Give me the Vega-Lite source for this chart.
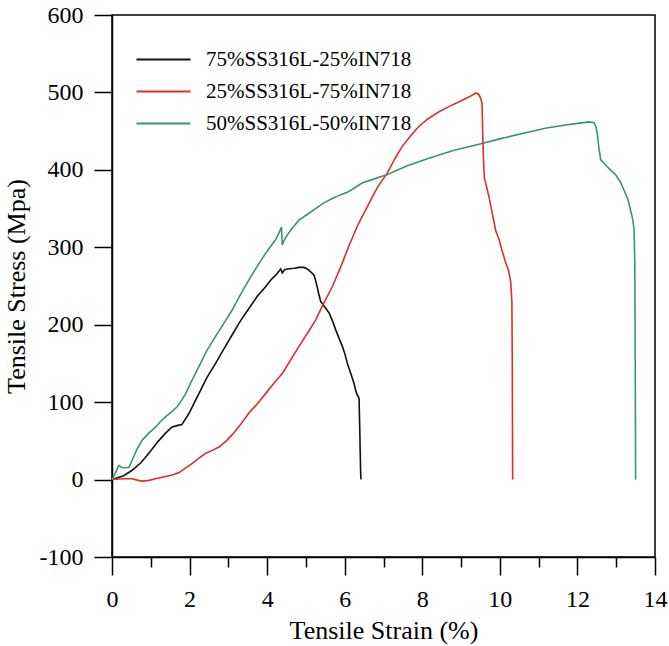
{
  "$schema": "https://vega.github.io/schema/vega-lite/v6.json",
  "width": 543,
  "height": 542,
  "autosize": {"type": "none"},
  "padding": {"left": 112, "top": 15, "right": 14, "bottom": 89},
  "background": "white",
  "config": {
    "font": "Liberation Serif",
    "view": {"stroke": "black", "strokeWidth": 1.5},
    "axis": {
      "domainColor": "black", "domainWidth": 1.5,
      "tickColor": "black", "tickWidth": 1.5,
      "grid": false,
      "labelFont": "Times New Roman", "labelFontSize": 24, "labelColor": "black",
      "titleFont": "Liberation Serif", "titleFontSize": 26, "titleFontWeight": "normal", "titleColor": "black"
    }
  },
  "data": {"values": [
    {"alloy": "75%SS316L-25%IN718", "i": 1, "strain": 0, "stress": 0},
    {"alloy": "75%SS316L-25%IN718", "i": 2, "strain": 0.3, "stress": 5},
    {"alloy": "75%SS316L-25%IN718", "i": 3, "strain": 0.52, "stress": 12},
    {"alloy": "75%SS316L-25%IN718", "i": 4, "strain": 0.75, "stress": 22},
    {"alloy": "75%SS316L-25%IN718", "i": 5, "strain": 0.95, "stress": 34},
    {"alloy": "75%SS316L-25%IN718", "i": 6, "strain": 1.2, "stress": 50},
    {"alloy": "75%SS316L-25%IN718", "i": 7, "strain": 1.38, "stress": 60},
    {"alloy": "75%SS316L-25%IN718", "i": 8, "strain": 1.55, "stress": 68},
    {"alloy": "75%SS316L-25%IN718", "i": 9, "strain": 1.7, "stress": 70},
    {"alloy": "75%SS316L-25%IN718", "i": 10, "strain": 1.8, "stress": 71},
    {"alloy": "75%SS316L-25%IN718", "i": 11, "strain": 1.98, "stress": 85},
    {"alloy": "75%SS316L-25%IN718", "i": 12, "strain": 2.24, "stress": 111},
    {"alloy": "75%SS316L-25%IN718", "i": 13, "strain": 2.45, "stress": 132},
    {"alloy": "75%SS316L-25%IN718", "i": 14, "strain": 2.67, "stress": 150},
    {"alloy": "75%SS316L-25%IN718", "i": 15, "strain": 2.9, "stress": 170},
    {"alloy": "75%SS316L-25%IN718", "i": 16, "strain": 3.1, "stress": 187},
    {"alloy": "75%SS316L-25%IN718", "i": 17, "strain": 3.3, "stress": 204},
    {"alloy": "75%SS316L-25%IN718", "i": 18, "strain": 3.53, "stress": 221},
    {"alloy": "75%SS316L-25%IN718", "i": 19, "strain": 3.75, "stress": 237},
    {"alloy": "75%SS316L-25%IN718", "i": 20, "strain": 3.96, "stress": 249},
    {"alloy": "75%SS316L-25%IN718", "i": 21, "strain": 4.1, "stress": 258},
    {"alloy": "75%SS316L-25%IN718", "i": 22, "strain": 4.22, "stress": 264},
    {"alloy": "75%SS316L-25%IN718", "i": 23, "strain": 4.35, "stress": 272},
    {"alloy": "75%SS316L-25%IN718", "i": 24, "strain": 4.39, "stress": 267},
    {"alloy": "75%SS316L-25%IN718", "i": 25, "strain": 4.45, "stress": 271},
    {"alloy": "75%SS316L-25%IN718", "i": 26, "strain": 4.52, "stress": 272},
    {"alloy": "75%SS316L-25%IN718", "i": 27, "strain": 4.7, "stress": 273},
    {"alloy": "75%SS316L-25%IN718", "i": 28, "strain": 4.82, "stress": 274},
    {"alloy": "75%SS316L-25%IN718", "i": 29, "strain": 4.95, "stress": 274},
    {"alloy": "75%SS316L-25%IN718", "i": 30, "strain": 5.04, "stress": 272},
    {"alloy": "75%SS316L-25%IN718", "i": 31, "strain": 5.13, "stress": 268},
    {"alloy": "75%SS316L-25%IN718", "i": 32, "strain": 5.21, "stress": 264},
    {"alloy": "75%SS316L-25%IN718", "i": 33, "strain": 5.26, "stress": 255},
    {"alloy": "75%SS316L-25%IN718", "i": 34, "strain": 5.29, "stress": 249},
    {"alloy": "75%SS316L-25%IN718", "i": 35, "strain": 5.33, "stress": 240},
    {"alloy": "75%SS316L-25%IN718", "i": 36, "strain": 5.38, "stress": 230},
    {"alloy": "75%SS316L-25%IN718", "i": 37, "strain": 5.5, "stress": 222},
    {"alloy": "75%SS316L-25%IN718", "i": 38, "strain": 5.6, "stress": 215},
    {"alloy": "75%SS316L-25%IN718", "i": 39, "strain": 5.7, "stress": 203},
    {"alloy": "75%SS316L-25%IN718", "i": 40, "strain": 5.77, "stress": 193},
    {"alloy": "75%SS316L-25%IN718", "i": 41, "strain": 5.85, "stress": 183},
    {"alloy": "75%SS316L-25%IN718", "i": 42, "strain": 5.94, "stress": 172},
    {"alloy": "75%SS316L-25%IN718", "i": 43, "strain": 6.0, "stress": 163},
    {"alloy": "75%SS316L-25%IN718", "i": 44, "strain": 6.07, "stress": 150},
    {"alloy": "75%SS316L-25%IN718", "i": 45, "strain": 6.15, "stress": 138},
    {"alloy": "75%SS316L-25%IN718", "i": 46, "strain": 6.24, "stress": 124},
    {"alloy": "75%SS316L-25%IN718", "i": 47, "strain": 6.3, "stress": 112},
    {"alloy": "75%SS316L-25%IN718", "i": 48, "strain": 6.37, "stress": 105},
    {"alloy": "75%SS316L-25%IN718", "i": 49, "strain": 6.39, "stress": 60},
    {"alloy": "75%SS316L-25%IN718", "i": 50, "strain": 6.4, "stress": 34},
    {"alloy": "75%SS316L-25%IN718", "i": 51, "strain": 6.41, "stress": 10},
    {"alloy": "75%SS316L-25%IN718", "i": 52, "strain": 6.42, "stress": 0},

    {"alloy": "25%SS316L-75%IN718", "i": 1, "strain": 0, "stress": 0},
    {"alloy": "25%SS316L-75%IN718", "i": 2, "strain": 0.3, "stress": 1},
    {"alloy": "25%SS316L-75%IN718", "i": 3, "strain": 0.52, "stress": 1},
    {"alloy": "25%SS316L-75%IN718", "i": 4, "strain": 0.75, "stress": -2},
    {"alloy": "25%SS316L-75%IN718", "i": 5, "strain": 0.95, "stress": -1},
    {"alloy": "25%SS316L-75%IN718", "i": 6, "strain": 1.2, "stress": 2},
    {"alloy": "25%SS316L-75%IN718", "i": 7, "strain": 1.38, "stress": 4},
    {"alloy": "25%SS316L-75%IN718", "i": 8, "strain": 1.55, "stress": 6},
    {"alloy": "25%SS316L-75%IN718", "i": 9, "strain": 1.73, "stress": 9},
    {"alloy": "25%SS316L-75%IN718", "i": 10, "strain": 1.9, "stress": 15},
    {"alloy": "25%SS316L-75%IN718", "i": 11, "strain": 2.07, "stress": 21},
    {"alloy": "25%SS316L-75%IN718", "i": 12, "strain": 2.25, "stress": 28},
    {"alloy": "25%SS316L-75%IN718", "i": 13, "strain": 2.42, "stress": 34},
    {"alloy": "25%SS316L-75%IN718", "i": 14, "strain": 2.6, "stress": 38},
    {"alloy": "25%SS316L-75%IN718", "i": 15, "strain": 2.76, "stress": 42},
    {"alloy": "25%SS316L-75%IN718", "i": 16, "strain": 2.95, "stress": 50},
    {"alloy": "25%SS316L-75%IN718", "i": 17, "strain": 3.1, "stress": 58},
    {"alloy": "25%SS316L-75%IN718", "i": 18, "strain": 3.3, "stress": 70},
    {"alloy": "25%SS316L-75%IN718", "i": 19, "strain": 3.53, "stress": 86},
    {"alloy": "25%SS316L-75%IN718", "i": 20, "strain": 3.75, "stress": 98},
    {"alloy": "25%SS316L-75%IN718", "i": 21, "strain": 3.96, "stress": 111},
    {"alloy": "25%SS316L-75%IN718", "i": 22, "strain": 4.2, "stress": 126},
    {"alloy": "25%SS316L-75%IN718", "i": 23, "strain": 4.39, "stress": 137},
    {"alloy": "25%SS316L-75%IN718", "i": 24, "strain": 4.6, "stress": 154},
    {"alloy": "25%SS316L-75%IN718", "i": 25, "strain": 4.82, "stress": 172},
    {"alloy": "25%SS316L-75%IN718", "i": 26, "strain": 5.05, "stress": 190},
    {"alloy": "25%SS316L-75%IN718", "i": 27, "strain": 5.25, "stress": 206},
    {"alloy": "25%SS316L-75%IN718", "i": 28, "strain": 5.45, "stress": 227},
    {"alloy": "25%SS316L-75%IN718", "i": 29, "strain": 5.68, "stress": 249},
    {"alloy": "25%SS316L-75%IN718", "i": 30, "strain": 5.9, "stress": 275},
    {"alloy": "25%SS316L-75%IN718", "i": 31, "strain": 6.11, "stress": 302},
    {"alloy": "25%SS316L-75%IN718", "i": 32, "strain": 6.35, "stress": 330},
    {"alloy": "25%SS316L-75%IN718", "i": 33, "strain": 6.63, "stress": 357},
    {"alloy": "25%SS316L-75%IN718", "i": 34, "strain": 6.85, "stress": 378},
    {"alloy": "25%SS316L-75%IN718", "i": 35, "strain": 7.1, "stress": 396},
    {"alloy": "25%SS316L-75%IN718", "i": 36, "strain": 7.3, "stress": 415},
    {"alloy": "25%SS316L-75%IN718", "i": 37, "strain": 7.48, "stress": 430},
    {"alloy": "25%SS316L-75%IN718", "i": 38, "strain": 7.7, "stress": 444},
    {"alloy": "25%SS316L-75%IN718", "i": 39, "strain": 7.91, "stress": 456},
    {"alloy": "25%SS316L-75%IN718", "i": 40, "strain": 8.15, "stress": 466},
    {"alloy": "25%SS316L-75%IN718", "i": 41, "strain": 8.43, "stress": 475},
    {"alloy": "25%SS316L-75%IN718", "i": 42, "strain": 8.7, "stress": 482},
    {"alloy": "25%SS316L-75%IN718", "i": 43, "strain": 8.95, "stress": 488},
    {"alloy": "25%SS316L-75%IN718", "i": 44, "strain": 9.2, "stress": 494},
    {"alloy": "25%SS316L-75%IN718", "i": 45, "strain": 9.37, "stress": 499},
    {"alloy": "25%SS316L-75%IN718", "i": 46, "strain": 9.45, "stress": 498},
    {"alloy": "25%SS316L-75%IN718", "i": 47, "strain": 9.5, "stress": 493},
    {"alloy": "25%SS316L-75%IN718", "i": 48, "strain": 9.54, "stress": 486},
    {"alloy": "25%SS316L-75%IN718", "i": 49, "strain": 9.55, "stress": 465},
    {"alloy": "25%SS316L-75%IN718", "i": 50, "strain": 9.56, "stress": 443},
    {"alloy": "25%SS316L-75%IN718", "i": 51, "strain": 9.58, "stress": 410},
    {"alloy": "25%SS316L-75%IN718", "i": 52, "strain": 9.6, "stress": 390},
    {"alloy": "25%SS316L-75%IN718", "i": 53, "strain": 9.72, "stress": 365},
    {"alloy": "25%SS316L-75%IN718", "i": 54, "strain": 9.8, "stress": 345},
    {"alloy": "25%SS316L-75%IN718", "i": 55, "strain": 9.89, "stress": 322},
    {"alloy": "25%SS316L-75%IN718", "i": 56, "strain": 9.98, "stress": 310},
    {"alloy": "25%SS316L-75%IN718", "i": 57, "strain": 10.05, "stress": 297},
    {"alloy": "25%SS316L-75%IN718", "i": 58, "strain": 10.15, "stress": 280},
    {"alloy": "25%SS316L-75%IN718", "i": 59, "strain": 10.22, "stress": 271},
    {"alloy": "25%SS316L-75%IN718", "i": 60, "strain": 10.28, "stress": 255},
    {"alloy": "25%SS316L-75%IN718", "i": 61, "strain": 10.31, "stress": 230},
    {"alloy": "25%SS316L-75%IN718", "i": 62, "strain": 10.32, "stress": 150},
    {"alloy": "25%SS316L-75%IN718", "i": 63, "strain": 10.33, "stress": 0},

    {"alloy": "50%SS316L-50%IN718", "i": 1, "strain": 0, "stress": 0},
    {"alloy": "50%SS316L-50%IN718", "i": 2, "strain": 0.1, "stress": 10},
    {"alloy": "50%SS316L-50%IN718", "i": 3, "strain": 0.14, "stress": 14},
    {"alloy": "50%SS316L-50%IN718", "i": 4, "strain": 0.18, "stress": 18},
    {"alloy": "50%SS316L-50%IN718", "i": 5, "strain": 0.25, "stress": 16},
    {"alloy": "50%SS316L-50%IN718", "i": 6, "strain": 0.3, "stress": 15},
    {"alloy": "50%SS316L-50%IN718", "i": 7, "strain": 0.44, "stress": 16},
    {"alloy": "50%SS316L-50%IN718", "i": 8, "strain": 0.52, "stress": 25},
    {"alloy": "50%SS316L-50%IN718", "i": 9, "strain": 0.65, "stress": 40},
    {"alloy": "50%SS316L-50%IN718", "i": 10, "strain": 0.78, "stress": 51},
    {"alloy": "50%SS316L-50%IN718", "i": 11, "strain": 0.95, "stress": 60},
    {"alloy": "50%SS316L-50%IN718", "i": 12, "strain": 1.13, "stress": 68},
    {"alloy": "50%SS316L-50%IN718", "i": 13, "strain": 1.25, "stress": 75},
    {"alloy": "50%SS316L-50%IN718", "i": 14, "strain": 1.38, "stress": 81},
    {"alloy": "50%SS316L-50%IN718", "i": 15, "strain": 1.55, "stress": 88},
    {"alloy": "50%SS316L-50%IN718", "i": 16, "strain": 1.68, "stress": 94},
    {"alloy": "50%SS316L-50%IN718", "i": 17, "strain": 1.8, "stress": 103},
    {"alloy": "50%SS316L-50%IN718", "i": 18, "strain": 1.9, "stress": 111},
    {"alloy": "50%SS316L-50%IN718", "i": 19, "strain": 2.05, "stress": 127},
    {"alloy": "50%SS316L-50%IN718", "i": 20, "strain": 2.24, "stress": 146},
    {"alloy": "50%SS316L-50%IN718", "i": 21, "strain": 2.45, "stress": 167},
    {"alloy": "50%SS316L-50%IN718", "i": 22, "strain": 2.67, "stress": 185},
    {"alloy": "50%SS316L-50%IN718", "i": 23, "strain": 2.9, "stress": 203},
    {"alloy": "50%SS316L-50%IN718", "i": 24, "strain": 3.1, "stress": 219},
    {"alloy": "50%SS316L-50%IN718", "i": 25, "strain": 3.3, "stress": 238},
    {"alloy": "50%SS316L-50%IN718", "i": 26, "strain": 3.53, "stress": 258},
    {"alloy": "50%SS316L-50%IN718", "i": 27, "strain": 3.75, "stress": 276},
    {"alloy": "50%SS316L-50%IN718", "i": 28, "strain": 3.96, "stress": 292},
    {"alloy": "50%SS316L-50%IN718", "i": 29, "strain": 4.1, "stress": 302},
    {"alloy": "50%SS316L-50%IN718", "i": 30, "strain": 4.22, "stress": 310},
    {"alloy": "50%SS316L-50%IN718", "i": 31, "strain": 4.3, "stress": 318},
    {"alloy": "50%SS316L-50%IN718", "i": 32, "strain": 4.37, "stress": 326},
    {"alloy": "50%SS316L-50%IN718", "i": 33, "strain": 4.39, "stress": 303},
    {"alloy": "50%SS316L-50%IN718", "i": 34, "strain": 4.45, "stress": 310},
    {"alloy": "50%SS316L-50%IN718", "i": 35, "strain": 4.52, "stress": 316},
    {"alloy": "50%SS316L-50%IN718", "i": 36, "strain": 4.65, "stress": 325},
    {"alloy": "50%SS316L-50%IN718", "i": 37, "strain": 4.82, "stress": 335},
    {"alloy": "50%SS316L-50%IN718", "i": 38, "strain": 5.05, "stress": 343},
    {"alloy": "50%SS316L-50%IN718", "i": 39, "strain": 5.25, "stress": 350},
    {"alloy": "50%SS316L-50%IN718", "i": 40, "strain": 5.45, "stress": 357},
    {"alloy": "50%SS316L-50%IN718", "i": 41, "strain": 5.68, "stress": 363},
    {"alloy": "50%SS316L-50%IN718", "i": 42, "strain": 5.9, "stress": 368},
    {"alloy": "50%SS316L-50%IN718", "i": 43, "strain": 6.11, "stress": 372},
    {"alloy": "50%SS316L-50%IN718", "i": 44, "strain": 6.45, "stress": 383},
    {"alloy": "50%SS316L-50%IN718", "i": 45, "strain": 6.8, "stress": 389},
    {"alloy": "50%SS316L-50%IN718", "i": 46, "strain": 7.1, "stress": 394},
    {"alloy": "50%SS316L-50%IN718", "i": 47, "strain": 7.6, "stress": 405},
    {"alloy": "50%SS316L-50%IN718", "i": 48, "strain": 8.17, "stress": 415},
    {"alloy": "50%SS316L-50%IN718", "i": 49, "strain": 8.8, "stress": 425},
    {"alloy": "50%SS316L-50%IN718", "i": 50, "strain": 9.54, "stress": 434},
    {"alloy": "50%SS316L-50%IN718", "i": 51, "strain": 10.0, "stress": 440},
    {"alloy": "50%SS316L-50%IN718", "i": 52, "strain": 10.75, "stress": 449},
    {"alloy": "50%SS316L-50%IN718", "i": 53, "strain": 11.2, "stress": 454},
    {"alloy": "50%SS316L-50%IN718", "i": 54, "strain": 11.7, "stress": 458},
    {"alloy": "50%SS316L-50%IN718", "i": 55, "strain": 12.0, "stress": 460},
    {"alloy": "50%SS316L-50%IN718", "i": 56, "strain": 12.3, "stress": 462},
    {"alloy": "50%SS316L-50%IN718", "i": 57, "strain": 12.43, "stress": 461},
    {"alloy": "50%SS316L-50%IN718", "i": 58, "strain": 12.48, "stress": 455},
    {"alloy": "50%SS316L-50%IN718", "i": 59, "strain": 12.51, "stress": 447},
    {"alloy": "50%SS316L-50%IN718", "i": 60, "strain": 12.55, "stress": 430},
    {"alloy": "50%SS316L-50%IN718", "i": 61, "strain": 12.6, "stress": 413},
    {"alloy": "50%SS316L-50%IN718", "i": 62, "strain": 12.73, "stress": 406},
    {"alloy": "50%SS316L-50%IN718", "i": 63, "strain": 12.85, "stress": 400},
    {"alloy": "50%SS316L-50%IN718", "i": 64, "strain": 12.98, "stress": 394},
    {"alloy": "50%SS316L-50%IN718", "i": 65, "strain": 13.1, "stress": 385},
    {"alloy": "50%SS316L-50%IN718", "i": 66, "strain": 13.2, "stress": 374},
    {"alloy": "50%SS316L-50%IN718", "i": 67, "strain": 13.3, "stress": 362},
    {"alloy": "50%SS316L-50%IN718", "i": 68, "strain": 13.37, "stress": 348},
    {"alloy": "50%SS316L-50%IN718", "i": 69, "strain": 13.43, "stress": 335},
    {"alloy": "50%SS316L-50%IN718", "i": 70, "strain": 13.46, "stress": 322},
    {"alloy": "50%SS316L-50%IN718", "i": 71, "strain": 13.47, "stress": 300},
    {"alloy": "50%SS316L-50%IN718", "i": 72, "strain": 13.48, "stress": 275},
    {"alloy": "50%SS316L-50%IN718", "i": 73, "strain": 13.49, "stress": 150},
    {"alloy": "50%SS316L-50%IN718", "i": 74, "strain": 13.5, "stress": 0}
  ]},
  "mark": {"type": "line", "strokeWidth": 1.6},
  "encoding": {
    "x": {
      "field": "strain", "type": "quantitative",
      "scale": {"domain": [0, 14], "nice": false, "zero": false},
      "axis": {
        "title": "Tensile Strain (%)",
        "values": [0, 1, 2, 3, 4, 5, 6, 7, 8, 9, 10, 11, 12, 13, 14],
        "labelExpr": "datum.value % 2 === 0 ? '' + datum.value : ''",
        "labelFont": "Times New Roman",
        "labelFontSize": 24,
        "tickSize": {"condition": {"test": "datum.value % 2 === 0", "value": 18}, "value": 10},
        "labelPadding": 12,
        "labelFlush": false,
        "labelOverlap": false,
        "titlePadding": 6
      }
    },
    "y": {
      "field": "stress", "type": "quantitative",
      "scale": {"domain": [-100, 600], "nice": false, "zero": false},
      "axis": {
        "title": "Tensile Stress (Mpa)",
        "values": [-100, 0, 100, 200, 300, 400, 500, 600],
        "labelExpr": "'' + datum.value",
        "labelFont": "Times New Roman",
        "labelFontSize": 24,
        "tickSize": 18,
        "labelPadding": 11,
        "labelFlush": false,
        "labelOverlap": false,
        "titlePadding": 10
      }
    },
    "color": {
      "field": "alloy", "type": "nominal",
      "scale": {
        "domain": ["75%SS316L-25%IN718", "25%SS316L-75%IN718", "50%SS316L-50%IN718"],
        "range": ["#111111", "#d9302c", "#3b9470"]
      },
      "legend": {
        "title": null,
        "orient": "none",
        "legendX": 41,
        "legendY": 34,
        "symbolType": "M-3,0H3",
        "symbolSize": 324,
        "symbolStrokeWidth": 2,
        "labelFont": "Liberation Serif",
        "labelFontSize": 21,
        "labelColor": "black",
        "labelLimit": 0,
        "labelOffset": 32,
        "rowPadding": 10,
        "padding": 0
      }
    },
    "order": {"field": "i", "type": "quantitative"}
  }
}
